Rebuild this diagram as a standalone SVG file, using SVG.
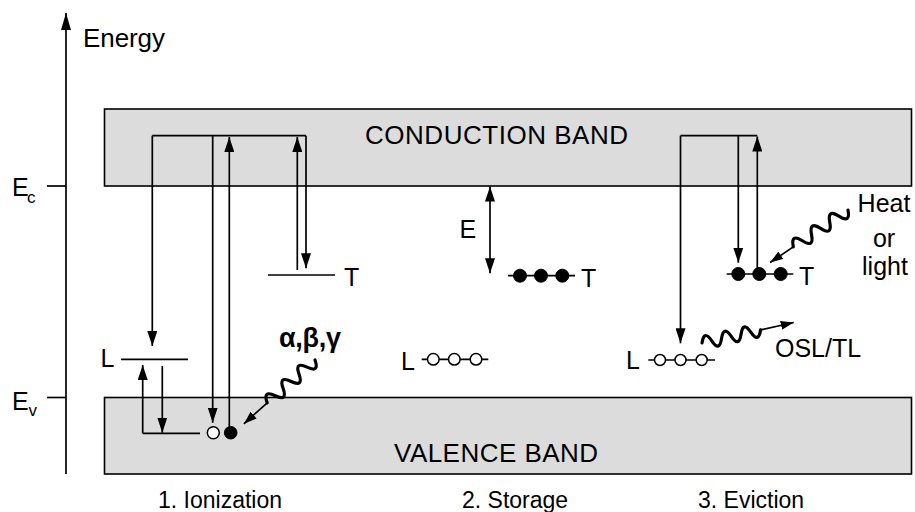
<svg xmlns="http://www.w3.org/2000/svg" width="915" height="512" viewBox="0 0 915 512">
<style>
text{font-family:"Liberation Sans",Arial,sans-serif;fill:#000}
.band{fill:#dcdcdc;stroke:#000;stroke-width:1.6}
.ln{stroke:#000;stroke-width:1.7;fill:none}
.arr{stroke:#000;stroke-width:1.7;fill:none;marker-end:url(#ah)}
.wave{stroke:#000;stroke-width:3.2;fill:none;stroke-linecap:round}
.lbl{font-size:25px}
.cap{font-size:23px}
.open{fill:#fff;stroke:#000;stroke-width:1.5}
.full{fill:#000;stroke:#000;stroke-width:1}
</style>
<defs>
<marker id="ah" viewBox="0 0 15 10" refX="15" refY="5" markerWidth="15" markerHeight="10" markerUnits="userSpaceOnUse" orient="auto-start-reverse"><path d="M0,0 L15,5 L0,10 z" fill="#000"/></marker>
<marker id="ahs" viewBox="0 0 13 9" refX="13" refY="4.5" markerWidth="13" markerHeight="9" markerUnits="userSpaceOnUse" orient="auto"><path d="M0,0 L13,4.5 L0,9 z" fill="#000"/></marker>
<marker id="axh" viewBox="0 0 17 10" refX="17" refY="5" markerWidth="17" markerHeight="10" markerUnits="userSpaceOnUse" orient="auto"><path d="M0,0 L17,5 L0,10 z" fill="#000"/></marker>
</defs>

<g id="axis">
<line class="ln" x1="66" y1="474" x2="66" y2="13" marker-end="url(#axh)"/>
<line class="ln" x1="47" y1="186" x2="66" y2="186"/>
<line class="ln" x1="47" y1="397.5" x2="66" y2="397.5"/>
<text x="83" y="46.5" font-size="26" textLength="82">Energy</text>
<text x="12" y="196" font-size="25">E</text><text x="27" y="203" font-size="17">c</text>
<text x="12" y="410" font-size="25">E</text><text x="28.5" y="416" font-size="17">v</text>
</g>

<g id="conduction-band">
<rect class="band" x="104.5" y="109" width="807" height="77"/>
<text x="365" y="144.3" font-size="26" textLength="263">CONDUCTION BAND</text>
</g>
<g id="valence-band">
<rect class="band" x="104.5" y="397.5" width="807" height="76.5"/>
<text x="394" y="461.5" font-size="26" textLength="204">VALENCE BAND</text>
</g>

<g id="ionization">
<line class="ln" x1="121" y1="359.3" x2="188" y2="359.3"/>
<text class="lbl" x="100.5" y="366.5">L</text>
<line class="ln" x1="268" y1="275" x2="335" y2="275"/>
<text class="lbl" x="344" y="286">T</text>
<circle class="open" cx="213.3" cy="432.7" r="6"/>
<circle class="full" cx="230.7" cy="432.7" r="6.3"/>
<text x="279" y="347" font-family="Liberation Serif,serif" font-weight="bold" font-size="27" textLength="62">α,β,γ</text>
<text class="cap" x="158" y="508">1. Ionization</text>
</g>

<g id="storage">
<line class="ln" x1="508" y1="275.7" x2="575" y2="275.7"/>
<circle class="full" cx="520" cy="275.7" r="6.5"/>
<circle class="full" cx="541" cy="275.7" r="6.5"/>
<circle class="full" cx="562.3" cy="275.7" r="6.5"/>
<text class="lbl" x="581" y="287">T</text>
<line class="ln" x1="421.7" y1="359.3" x2="488.3" y2="359.3"/>
<circle class="open" cx="433.3" cy="359.3" r="5.8"/>
<circle class="open" cx="454.3" cy="359.3" r="5.8"/>
<circle class="open" cx="476" cy="359.3" r="5.8"/>
<text class="lbl" x="401" y="370">L</text>
<text class="lbl" x="459.5" y="238">E</text>
<text class="cap" x="462" y="508">2. Storage</text>
</g>

<g id="eviction">
<line class="ln" x1="726.7" y1="274" x2="793.3" y2="274"/>
<circle class="full" cx="738.3" cy="274" r="6.5"/>
<circle class="full" cx="759.3" cy="274" r="6.5"/>
<circle class="full" cx="780.7" cy="274" r="6.5"/>
<text class="lbl" x="799" y="285">T</text>
<line class="ln" x1="648.3" y1="360" x2="715" y2="360"/>
<circle class="open" cx="660" cy="360" r="5.5"/>
<circle class="open" cx="680.5" cy="360" r="5.5"/>
<circle class="open" cx="701.7" cy="360" r="5.5"/>
<text class="lbl" x="626" y="369">L</text>
<text class="lbl" x="884" y="212" text-anchor="middle">Heat</text>
<text class="lbl" x="884" y="246.5" text-anchor="middle">or</text>
<text class="lbl" x="885" y="275" text-anchor="middle">light</text>
<text class="lbl" x="775" y="357">OSL/TL</text>
<text class="cap" x="698" y="508">3. Eviction</text>
</g>

<g id="connectors">
<line class="ln" x1="152.3" y1="135.7" x2="306" y2="135.7"/>
<line class="arr" x1="152.3" y1="135.7" x2="152.3" y2="346"/>
<line class="arr" x1="306" y1="135.7" x2="306" y2="268.3"/>
<line class="arr" x1="212.7" y1="135.7" x2="212.7" y2="422.7"/>
<line class="arr" x1="229.3" y1="426.5" x2="229.3" y2="137"/>
<line class="arr" x1="297.3" y1="270" x2="297.3" y2="137"/>
<line class="ln" x1="200" y1="433.3" x2="142.7" y2="433.3"/>
<line class="arr" x1="142.7" y1="433.3" x2="142.7" y2="365"/>
<line class="arr" x1="162.3" y1="366" x2="162.3" y2="432.7"/>
<line class="ln" x1="490" y1="186.5" x2="490" y2="273.3" marker-start="url(#ah)" marker-end="url(#ah)"/>
<line class="ln" x1="680.5" y1="135.7" x2="757.3" y2="135.7"/>
<line class="arr" x1="680.5" y1="135.7" x2="680.5" y2="343.3"/>
<line class="arr" x1="738.3" y1="135.7" x2="738.3" y2="262.7"/>
<line class="arr" x1="757.3" y1="271.7" x2="757.3" y2="136.5"/>
<g transform="translate(315,360) rotate(138.1)">
<path class="wave" d="M0,0 q5.35,-13 10.7,0 t10.7,0 t10.7,0 t10.7,0 t10.7,0 t10.7,0"/>
<line class="ln" x1="64.2" y1="0" x2="95.5" y2="0" stroke-width="1.5" marker-end="url(#ahs)"/>
</g>
<g transform="translate(848,210) rotate(146)">
<path class="wave" d="M0,0 q5.5,-13 11,0 t11,0 t11,0 t11,0 t11,0 t11,0"/>
<line class="ln" x1="66" y1="0" x2="94" y2="0" stroke-width="1.5" marker-end="url(#ahs)"/>
</g>
<g transform="translate(702,343) rotate(-12.6)">
<path class="wave" d="M0,0 q5,-13 10,0 t10,0 t10,0 t10,0 t10,0 t10,0"/>
<line class="ln" x1="60" y1="0" x2="94" y2="0" stroke-width="1.5" marker-end="url(#ahs)"/>
</g>
</g>
</svg>
